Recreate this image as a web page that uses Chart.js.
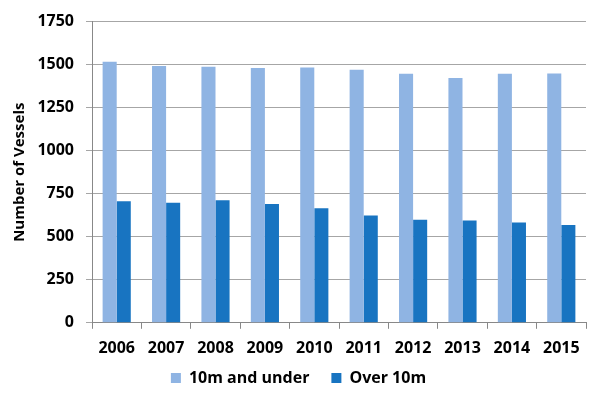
<!DOCTYPE html>
<html>
<head>
<meta charset="utf-8">
<script src="https://cdn.jsdelivr.net/npm/chart.js@4.4.1/dist/chart.umd.min.js"></script>
<style>
  html, body { margin: 0; padding: 0; background: #fff; }
  #wrap { width: 606px; height: 397px; }
</style>
</head>
<body>
<div id="wrap"><canvas id="vesselChart" width="606" height="397"></canvas></div>
<script>
const years = ['2006', '2007', '2008', '2009', '2010', '2011', '2012', '2013', '2014', '2015'];
const under10m = [1517, 1492, 1488, 1480, 1484, 1470, 1447, 1423, 1447, 1449];
const over10m = [706, 698, 712, 690, 665, 624, 599, 595, 583, 568];
const yTicks = [0, 250, 500, 750, 1000, 1250, 1500, 1750];

const lightBlue = '#8FB4E3';
const darkBlue = '#1874C1';
const font = 'Open Sans';

new Chart(document.getElementById('vesselChart').getContext('2d'), {
  type: 'bar',
  data: {
    labels: years,
    datasets: [
      { label: '10m and under', data: under10m, backgroundColor: lightBlue },
      { label: 'Over 10m', data: over10m, backgroundColor: darkBlue }
    ]
  },
  options: {
    responsive: false,
    animation: false,
    devicePixelRatio: 1,
    layout: { padding: { left: 11, right: 20, top: 14, bottom: 1 } },
    datasets: { bar: { categoryPercentage: 0.57, barPercentage: 1 } },
    plugins: {
      tooltip: { enabled: false },
      legend: {
        position: 'bottom',
        labels: {
          boxWidth: 10,
          boxHeight: 10,
          padding: 22,
          color: '#000',
          font: { family: font, size: 16, weight: 'bold' }
        }
      }
    },
    scales: {
      x: {
        offset: true,
        afterFit: axis => {
          axis.height -= 20;
          // the box is squeezed, so let the year labels draw past it
          axis._computeLabelArea = () => undefined;
        },
        grid: { offset: true, drawOnChartArea: false, drawTicks: true, tickLength: 6, color: '#888' },
        border: { color: '#888' },
        ticks: { color: '#000', padding: 10, font: { family: font, size: 16, weight: 'bold' } }
      },
      y: {
        min: 0,
        max: 1750,
        afterBuildTicks: axis => { axis.ticks = yTicks.map(v => ({ value: v })); },
        afterFit: axis => { axis.width = 81; },
        grid: { color: '#A6A6A6', tickLength: 6 },
        border: { color: '#888' },
        ticks: {
          color: '#000',
          padding: 12,
          font: { family: font, size: 16, weight: 'bold' },
          callback: value => String(value)
        },
        title: {
          display: true,
          text: 'Number of Vessels',
          color: '#000',
          padding: 0,
          font: { family: font, size: 15, weight: 'bold' }
        }
      }
    }
  }
});
</script>
</body>
</html>
